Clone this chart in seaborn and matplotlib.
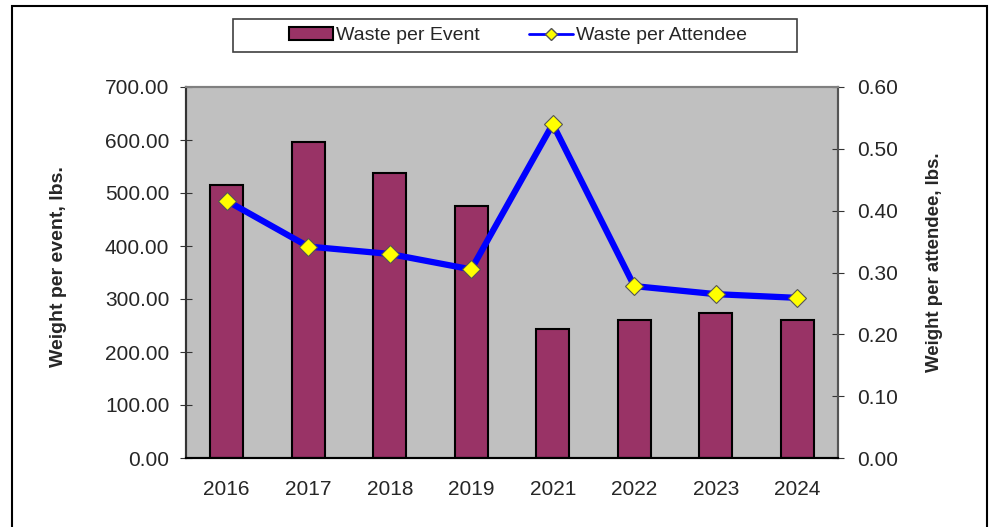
import matplotlib
matplotlib.use("Agg")
import matplotlib.pyplot as plt
import matplotlib.patches as mpatches
from matplotlib.lines import Line2D
from matplotlib.ticker import FormatStrFormatter, FixedLocator
import seaborn as sns

# Data
years = ["2016", "2017", "2018", "2019", "2021", "2022", "2023", "2024"]
waste_per_event = [516, 596, 538, 476, 243, 260, 274, 260]
waste_per_attendee = [0.416, 0.342, 0.330, 0.305, 0.540, 0.278, 0.265, 0.259]

bar_color = "#993366"
line_color = "#0000FF"
marker_color = "#FFFF00"

sns.set_style("white")
plt.rcParams["font.family"] = ["Liberation Sans", "DejaVu Sans"]

fig = plt.figure(figsize=(9.9, 5.27), dpi=100)
ax = fig.add_axes([186 / 990, 1 - 458 / 527, (838 - 186) / 990, (458 - 87) / 527])
ax.set_facecolor("#C0C0C0")

sns.barplot(x=years, y=waste_per_event, ax=ax, color=bar_color, width=0.4,
            edgecolor="black", linewidth=1.5, saturation=1)
ax.set_ylim(0, 700)
ax.set_yticks(range(0, 701, 100))
ax.yaxis.set_major_formatter(FormatStrFormatter("%.2f"))
ax.set_ylabel("Weight per event, lbs.", fontsize=14, fontweight="bold", labelpad=27)
ax.yaxis.label.set_y(0.515)

ax2 = ax.twinx()
sns.pointplot(x=years, y=waste_per_attendee, ax=ax2, color=line_color, markers="D",
              errorbar=None, linewidth=4.5, markersize=9,
              markerfacecolor=marker_color, markeredgecolor="#555555", markeredgewidth=0.8)
ax2.set_ylim(0, 0.6)
ax2.set_yticks([i / 10 for i in range(7)])
ax2.yaxis.set_major_formatter(FormatStrFormatter("%.2f"))
ax2.set_ylabel("Weight per attendee, lbs.", fontsize=13.4, fontweight="bold", labelpad=20)
ax2.yaxis.label.set_y(0.528)
ax2.grid(False)

n = len(years)
ax.set_xlim(-0.5, n - 0.5)
ax2.set_xlim(-0.5, n - 0.5)
ax.xaxis.set_minor_locator(FixedLocator([i - 0.5 for i in range(n + 1)]))
ax.tick_params(axis="x", which="major", length=0, labelsize=15, pad=16)
ax.tick_params(axis="x", which="minor", length=8, direction="inout", color="black", width=1)
ax.tick_params(axis="y", length=8, direction="inout", labelsize=15, pad=8, color="#333333", left=True)
ax2.tick_params(axis="y", length=8, direction="inout", labelsize=15, pad=10, color="#333333", right=True)
ax.set_xlabel("")

for a in (ax, ax2):
    for s in a.spines.values():
        s.set_color("#808080")
        s.set_linewidth(1.5)
    a.spines["bottom"].set_color("black")
    a.spines["left"].set_color("#333333")
    a.spines["right"].set_color("#555555")

# legend above the plot, with its own frame box
handles = [
    mpatches.Patch(facecolor=bar_color, edgecolor="black", linewidth=1.5, label="Waste per Event"),
    Line2D([], [], color=line_color, lw=2, marker="D", markersize=6,
           markerfacecolor=marker_color, markeredgecolor="#555555", label="Waste per Attendee"),
]
fig.legend(handles=handles, loc="center", bbox_to_anchor=(518 / 990, 1 - 35.5 / 527),
           ncol=2, fontsize=14, frameon=False, columnspacing=2.5,
           handlelength=2.3, handletextpad=0.15, borderpad=0.3)
fig.patches.append(mpatches.Rectangle((233 / 990, 1 - 52 / 527), (797 - 233) / 990, 33 / 527,
                                      transform=fig.transFigure, fill=False,
                                      edgecolor="#404040", linewidth=1.2))

# outer chart border
fig.patches.append(mpatches.Rectangle((12 / 990, -0.01), (987 - 12) / 990, 1 - 6 / 527 + 0.01,
                                      transform=fig.transFigure, fill=False,
                                      edgecolor="black", linewidth=1.5))

fig.savefig("out.png", dpi=100)
